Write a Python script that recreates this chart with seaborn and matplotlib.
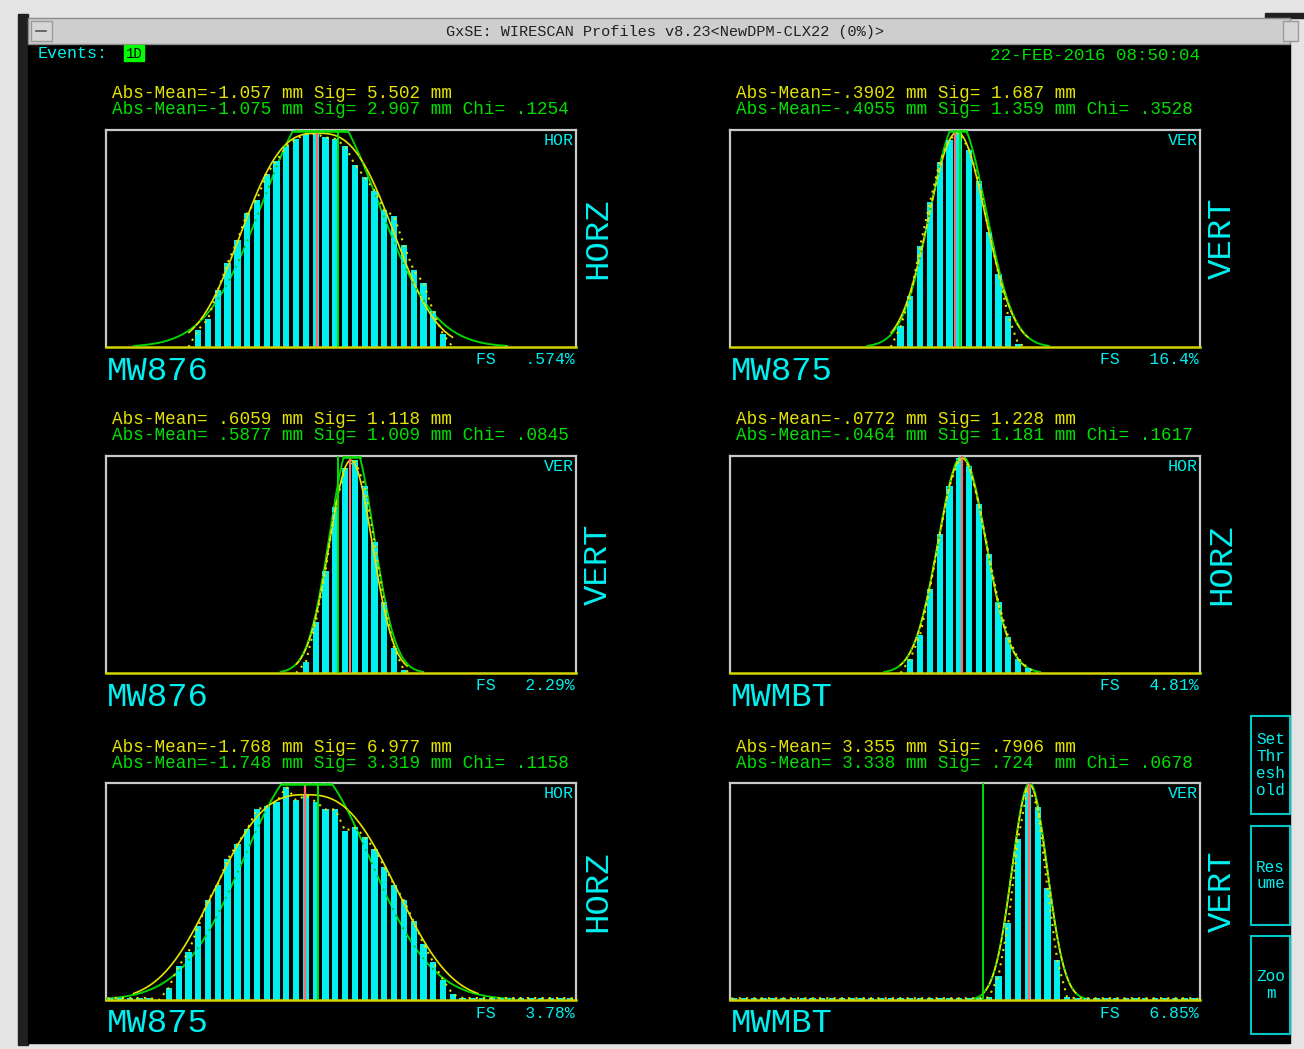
import numpy as np
import pandas as pd
import matplotlib
matplotlib.use("Agg")
import matplotlib.pyplot as plt
import seaborn as sns
from matplotlib.patches import Rectangle

# wire amplitudes (fraction of full scale), first wire index in *_start
tl_start = 9
tl_counts = [0.080, 0.129, 0.261, 0.387, 0.491, 0.617, 0.679, 0.798, 0.859, 0.925,
             0.959, 0.982, 0.982, 0.966, 0.959, 0.925, 0.840, 0.782, 0.721, 0.632,
             0.603, 0.471, 0.353, 0.296, 0.164, 0.058]
tr_start = 17
tr_counts = [0.095, 0.233, 0.465, 0.667, 0.854, 0.956, 0.990, 0.909, 0.764, 0.532,
             0.337, 0.143, 0.015]
ml_start = 20
ml_counts = [0.052, 0.233, 0.471, 0.764, 0.943, 0.982, 0.862, 0.603, 0.325, 0.115, 0.012]
mr_start = 18
mr_counts = [0.066, 0.176, 0.387, 0.640, 0.862, 0.989, 0.954, 0.778, 0.549, 0.325,
             0.166, 0.066, 0.023]
bl_start = 0
bl_counts = [0.009, 0.009, 0.009, 0.009, 0.009, 0.0,
             0.057, 0.156, 0.220, 0.339, 0.459, 0.531, 0.648, 0.719, 0.786, 0.878,
             0.893, 0.913, 0.982, 0.920, 0.943, 0.913, 0.878, 0.878, 0.780, 0.795,
             0.752, 0.696, 0.615, 0.531, 0.459, 0.362, 0.258, 0.174, 0.092, 0.026,
             0.009, 0.009, 0.009, 0.009, 0.009, 0.009, 0.009, 0.009, 0.009, 0.009,
             0.009, 0.009]
br_start = 0
br_counts = [0.008, 0.008, 0.008, 0.008, 0.008, 0.008, 0.008, 0.008, 0.008, 0.008,
             0.008, 0.008, 0.008, 0.008, 0.008, 0.008, 0.008, 0.008, 0.008, 0.008,
             0.008, 0.008, 0.008, 0.008, 0.008, 0.008, 0.012,
             0.110, 0.355, 0.740, 0.982, 0.890, 0.515, 0.183, 0.014,
             0.008, 0.008, 0.008, 0.008, 0.008, 0.008, 0.008, 0.008, 0.008, 0.008,
             0.008, 0.008, 0.008]

# fits, in wire units
# yellow: (centre, width, amplitude, shape exponent); green: (centre, sigma, amplitude)
tl_yfit, tl_gfit = (21.6, 7.2, 0.985, 2.8), (21.9, 5.8, 1.12)
tr_yfit, tr_gfit = (23.2, 2.9, 0.99, 2.0), (23.3, 2.85, 1.04)
ml_yfit, ml_gfit = (25.0, 2.2, 0.98, 2.0), (25.1, 2.23, 1.066)
mr_yfit, mr_gfit = (23.7, 2.45, 0.99, 2.0), (23.7, 2.45, 1.0)
bl_yfit, bl_gfit = (20.4, 8.6, 0.946, 2.7), (20.5, 6.4, 1.08)
br_yfit, br_gfit = (30.6, 1.8, 0.99, 2.0), (30.6, 1.8, 1.0)

# mean markers (red = raw mean, green = fit mean)
red_lines = [21.5, 22.96, 24.9, 23.7, 20.3, 30.5]
green_lines = [23.7, 23.5, 23.7, None, 21.7, 25.8]

names = ["MW876", "MW875", "MW876", "MWMBT", "MW875", "MWMBT"]
planes = ["HOR", "VER", "VER", "HOR", "HOR", "VER"]
fs_labels = [".574%", "16.4%", "2.29%", "4.81%", "3.78%", "6.85%"]
stats_raw = ["Abs-Mean=-1.057 mm Sig= 5.502 mm",
             "Abs-Mean=-.3902 mm Sig= 1.687 mm",
             "Abs-Mean= .6059 mm Sig= 1.118 mm",
             "Abs-Mean=-.0772 mm Sig= 1.228 mm",
             "Abs-Mean=-1.768 mm Sig= 6.977 mm",
             "Abs-Mean= 3.355 mm Sig= .7906 mm"]
stats_fit = ["Abs-Mean=-1.075 mm Sig= 2.907 mm Chi= .1254",
             "Abs-Mean=-.4055 mm Sig= 1.359 mm Chi= .3528",
             "Abs-Mean= .5877 mm Sig= 1.009 mm Chi= .0845",
             "Abs-Mean=-.0464 mm Sig= 1.181 mm Chi= .1617",
             "Abs-Mean=-1.748 mm Sig= 3.319 mm Chi= .1158",
             "Abs-Mean= 3.338 mm Sig= .724  mm Chi= .0678"]

starts = [tl_start, tr_start, ml_start, mr_start, bl_start, br_start]
counts = [tl_counts, tr_counts, ml_counts, mr_counts, bl_counts, br_counts]
yfits = [tl_yfit, tr_yfit, ml_yfit, mr_yfit, bl_yfit, br_yfit]
gfits = [tl_gfit, tr_gfit, ml_gfit, mr_gfit, bl_gfit, br_gfit]

CYAN = "#00f0f0"
YEL = "#e4e400"
GRN = "#00e000"
RED = "#ff6a6a"
MONO = ["Liberation Mono", "DejaVu Sans Mono"]
NWIRE = 48

W, H = 1304, 1049
fig = plt.figure(figsize=(W / 100, H / 100), dpi=100)
fig.patch.set_facecolor("#e4e4e4")

# window chrome and screen background, in pixel coordinates
bg = fig.add_axes([0, 0, 1, 1])
bg.set_xlim(0, W)
bg.set_ylim(H, 0)
bg.axis("off")
bg.add_patch(Rectangle((18, 14), 10, 1031, color="#202020"))
bg.add_patch(Rectangle((1265, 13), 39, 5, color="#202020"))
bg.add_patch(Rectangle((28, 44), 1262, 999, color="black"))
bg.add_patch(Rectangle((28, 18), 1262, 26, facecolor="#cecece", edgecolor="#8c8c8c", lw=1))
bg.add_patch(Rectangle((31, 21), 21, 20, facecolor="#d6d6d6", edgecolor="#9a9a9a", lw=1))
bg.plot([36, 46], [31, 31], color="#555555", lw=1.2)
bg.add_patch(Rectangle((1283, 21), 15, 20, facecolor="#d6d6d6", edgecolor="#9a9a9a", lw=1))
bg.text(665, 32, "GxSE: WIRESCAN Profiles v8.23<NewDPM-CLX22 (0%)>", ha="center",
        va="center", fontsize=11, family=MONO, color="#202020")

bg.text(38, 53, "Events:", ha="left", va="center", fontsize=12, family=MONO, color=CYAN)
bg.add_patch(Rectangle((124, 45), 20, 16, color="#00ff00"))
bg.text(134, 54, "1D", ha="center", va="center", fontsize=10, family=MONO, color="black")
bg.text(1200, 56, "22-FEB-2016 08:50:04", ha="right", va="center", fontsize=12.6,
        family=MONO, color=GRN)

# side buttons
buttons = [(716, 98, ["Set", "Thr", "esh", "old"]), (826, 99, ["Res", "ume"]),
           (936, 98, ["Zoo", "m"])]
for by, bh, lines in buttons:
    bg.add_patch(Rectangle((1251, by), 39, bh, fill=False, edgecolor="#00c8c8", lw=1.5))
    y0 = by + bh / 2 - (len(lines) - 1) * 8.5
    for i, t in enumerate(lines):
        bg.text(1270.5, y0 + i * 17, t, ha="center", va="center", fontsize=11.5,
                family=MONO, color=CYAN)

col_x = [106, 730]
row_y = [130, 456, 783]
pw, ph = 470, 217
xs = np.linspace(0, NWIRE, 800)

for i in range(6):
    x0 = col_x[i % 2]
    y0 = row_y[i // 2]
    ax = fig.add_axes([x0 / W, 1 - (y0 + ph) / H, pw / W, ph / H])
    ax.set_facecolor("black")

    pos = np.arange(starts[i], starts[i] + len(counts[i])) + 0.42
    df = pd.DataFrame({"wire": pos, "amp": counts[i]})
    sns.barplot(data=df, x="wire", y="amp", native_scale=True, color=CYAN,
                saturation=1, width=0.64, linewidth=0, errorbar=None, ax=ax, zorder=2)

    # green fit: solid behind bars, dots on top, flat where it runs off the top
    c, s, a = gfits[i]
    graw = a * np.exp(-(xs - c) ** 2 / (2 * s * s))
    g = np.minimum(graw, 1.0)
    g[g < 0.005] = np.nan
    ax.plot(xs, g, color=GRN, lw=1.3, zorder=1)
    ax.plot(xs, g, color="#00c000", lw=1.3, ls=(0, (1, 3)), zorder=4)
    gtop = np.where(graw >= 1.0, 0.996, np.nan)
    ax.plot(xs, gtop, color=GRN, lw=1.8, zorder=6, clip_on=False)

    # yellow fit, limited to the profile extent, and dotted raw trace
    c, s, a, p = yfits[i]
    yv = a * np.exp(-0.5 * (np.abs(xs - c) / s) ** p)
    yv[(yv < 0.03) | (xs < pos[0] - 1) | (xs > pos[-1] + 1)] = np.nan
    ax.plot(xs, yv, color=YEL, lw=1.2, zorder=3)
    tx = np.concatenate([[pos[0] - 1], pos, [pos[-1] + 1]])
    ty = np.concatenate([[0], counts[i], [0]])
    ax.plot(tx, ty, color=YEL, lw=1.5, ls=(0, (1, 2.5)), zorder=4)

    ax.axvline(red_lines[i], color=RED, lw=1.6, zorder=5)
    if green_lines[i] is not None:
        ax.axvline(green_lines[i], color=GRN, lw=1.4, zorder=5)

    ax.set_xlim(0, NWIRE)
    ax.set_ylim(0, 1.0)
    ax.set(xlabel="", ylabel="", xticks=[], yticks=[])
    for side in ["top", "left", "right"]:
        ax.spines[side].set_color("#c8c8c8")
        ax.spines[side].set_linewidth(1.6)
    ax.spines["bottom"].set_color("#d4d400")
    ax.spines["bottom"].set_linewidth(1.8)
    ax.text(0.995, 0.985, planes[i], transform=ax.transAxes, ha="right", va="top",
            fontsize=12, family=MONO, color=CYAN)

    # texts around the panel
    bg.text(x0 + 6, y0 - 36, stats_raw[i], ha="left", va="center", fontsize=12.7,
            family=MONO, color=YEL)
    bg.text(x0 + 6, y0 - 20, stats_fit[i], ha="left", va="center", fontsize=12.7,
            family=MONO, color=GRN)
    bg.text(x0 + 1, y0 + ph + 24, names[i], ha="left", va="center", fontsize=24.5,
            family=MONO, color=CYAN)
    bg.text(x0 + pw - 1, y0 + ph + 13, "FS   " + fs_labels[i], ha="right", va="center",
            fontsize=11.8, family=MONO, color=CYAN)
    bg.text(x0 + pw + 22, y0 + ph / 2, planes[i] + ("Z" if planes[i] == "HOR" else "T"),
            ha="center", va="center", rotation=90, fontsize=24.5, family=MONO, color=CYAN)

fig.savefig("out.png", dpi=100, facecolor=fig.get_facecolor())
